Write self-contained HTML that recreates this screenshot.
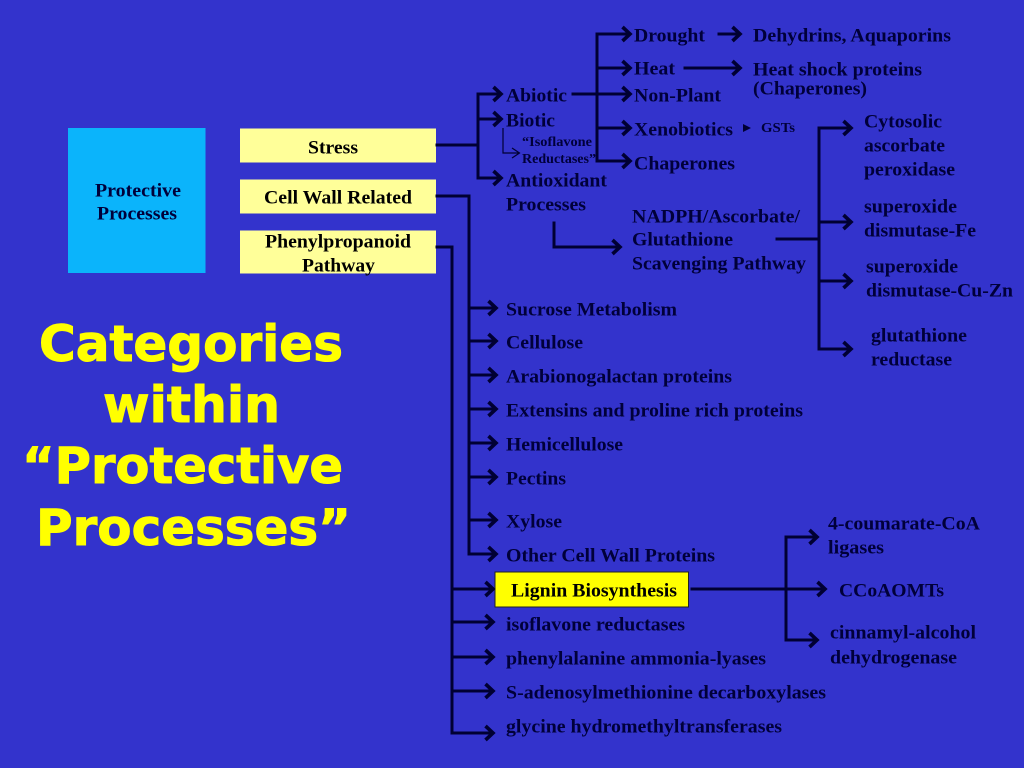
<!DOCTYPE html>
<html lang="en">
<head>
<meta charset="utf-8">
<title>Categories within Protective Processes</title>
<style>
html,body{margin:0;padding:0;background:#3333cc;width:1024px;height:768px;overflow:hidden}
svg{display:block}
.t text{font-family:"Liberation Serif",serif;font-weight:bold;font-size:18.5px;fill:#00003a}
.b text{fill:#000000}
.s text{font-size:13.500px}
.h text{font-family:"DejaVu Sans",sans-serif;font-weight:bold;font-size:50px;fill:#ffff00;stroke:#ffff00;stroke-width:1}
.l{fill:none;stroke:#000033;stroke-width:3;stroke-linecap:square;stroke-linejoin:miter}
.a{fill:none;stroke:#000033;stroke-width:3.6;stroke-linejoin:miter}
</style>
</head>
<body>
<svg width="1024" height="768" viewBox="0 0 1024 768" xmlns="http://www.w3.org/2000/svg">
<defs>
<g id="h"><path class="a" d="M-9.500,-7 L-2,0 L-9.500,7"/></g>
</defs>
<rect width="1024" height="768" fill="#3333cc"/>
<rect x="68" y="128" width="137.500" height="145" fill="#0bb4fb"/>
<rect x="240" y="128.500" width="196" height="34" fill="#ffff99"/>
<rect x="240" y="179.500" width="196" height="34" fill="#ffff99"/>
<rect x="240" y="230.500" width="196" height="43" fill="#ffff99"/>
<rect x="495" y="572" width="193.500" height="35" fill="#ffff00" stroke="#222" stroke-width="1"/>

<path class="l" d="M437,145 H478 M478,94 V178 M478,94 H498 M478,119 H498 M478,178 H498"/>
<use href="#h" x="503" y="94"/><use href="#h" x="503" y="119"/><use href="#h" x="503" y="178"/>
<path class="l" d="M573,94 H628 M597,34 V161 M597,34 H628 M597,68 H628 M597,128 H628 M597,161 H628"/>
<use href="#h" x="632" y="34"/><use href="#h" x="632" y="68"/><use href="#h" x="632" y="94"/><use href="#h" x="632" y="128"/><use href="#h" x="632" y="161"/>
<path class="l" d="M719,34 H738 M685,68 H738"/>
<use href="#h" x="742" y="34"/><use href="#h" x="742" y="68"/>
<path d="M743,124 L751,128 L743,132 Z" fill="#000033"/>
<path d="M503,128 V153 H519 M512,148 L519.500,153 L512,158" fill="none" stroke="#000033" stroke-width="1.200"/>
<path class="l" d="M554,223 V247 H618"/>
<use href="#h" x="622" y="247"/>
<path class="l" d="M777,239 H819 M819,128 V349 M819,128 H849 M819,222 H849 M819,281 H849 M819,349 H849"/>
<use href="#h" x="853" y="128"/><use href="#h" x="853" y="222"/><use href="#h" x="853" y="281"/><use href="#h" x="853" y="349"/>

<path class="l" d="M437,196 H469 V554 H494 M469,308 H494 M469,341 H494 M469,375 H494 M469,409 H494 M469,443 H494 M469,477 H494 M469,520 H494"/>
<use href="#h" x="498" y="308"/><use href="#h" x="498" y="341"/><use href="#h" x="498" y="375"/><use href="#h" x="498" y="409"/><use href="#h" x="498" y="443"/><use href="#h" x="498" y="477"/><use href="#h" x="498" y="520"/><use href="#h" x="498" y="554"/>
<path class="l" d="M437,247 H452 V733 H491 M452,589 H491 M452,622 H491 M452,657 H491 M452,691 H491"/>
<use href="#h" x="495" y="589"/><use href="#h" x="495" y="622"/><use href="#h" x="495" y="657"/><use href="#h" x="495" y="691"/><use href="#h" x="495" y="733"/>
<path class="l" d="M692,589 H823 M786,537 V640 M786,537 H815 M786,640 H815"/>
<use href="#h" x="827" y="589"/><use href="#h" x="819" y="537"/><use href="#h" x="819" y="640"/>

<g class="t b" transform="translate(0,0.5)">
<text x="308" y="153" textLength="50" lengthAdjust="spacingAndGlyphs">Stress</text>
<text x="264" y="203" textLength="148" lengthAdjust="spacingAndGlyphs">Cell Wall Related</text>
<text x="265" y="247" textLength="146" lengthAdjust="spacingAndGlyphs">Phenylpropanoid</text>
<text x="302" y="271" textLength="73" lengthAdjust="spacingAndGlyphs">Pathway</text>
<text x="511" y="596" textLength="166" lengthAdjust="spacingAndGlyphs">Lignin Biosynthesis</text>
</g>
<g class="t" transform="translate(0,0.5)">
<text x="95" y="196" textLength="86" lengthAdjust="spacingAndGlyphs">Protective</text>
<text x="97" y="219" textLength="80" lengthAdjust="spacingAndGlyphs">Processes</text>
<text x="634" y="41" textLength="71" lengthAdjust="spacingAndGlyphs">Drought</text>
<text x="753" y="41" textLength="198" lengthAdjust="spacingAndGlyphs">Dehydrins, Aquaporins</text>
<text x="634" y="74" textLength="41" lengthAdjust="spacingAndGlyphs">Heat</text>
<text x="753" y="75" textLength="169" lengthAdjust="spacingAndGlyphs">Heat shock proteins</text>
<text x="753" y="94" textLength="114" lengthAdjust="spacingAndGlyphs">(Chaperones)</text>
<text x="506" y="101" textLength="61" lengthAdjust="spacingAndGlyphs">Abiotic</text>
<text x="506" y="126" textLength="49" lengthAdjust="spacingAndGlyphs">Biotic</text>
<text x="634" y="101" textLength="87" lengthAdjust="spacingAndGlyphs">Non-Plant</text>
<text x="634" y="135" textLength="99" lengthAdjust="spacingAndGlyphs">Xenobiotics</text>
<text x="634" y="169" textLength="101" lengthAdjust="spacingAndGlyphs">Chaperones</text>
<text x="506" y="186" textLength="101" lengthAdjust="spacingAndGlyphs">Antioxidant</text>
<text x="506" y="210" textLength="80" lengthAdjust="spacingAndGlyphs">Processes</text>
<text x="632" y="222" textLength="168" lengthAdjust="spacingAndGlyphs">NADPH/Ascorbate/</text>
<text x="632" y="245" textLength="101" lengthAdjust="spacingAndGlyphs">Glutathione</text>
<text x="632" y="269" textLength="174" lengthAdjust="spacingAndGlyphs">Scavenging Pathway</text>
<text x="864" y="127" textLength="78" lengthAdjust="spacingAndGlyphs">Cytosolic</text>
<text x="864" y="151" textLength="81" lengthAdjust="spacingAndGlyphs">ascorbate</text>
<text x="864" y="175" textLength="91" lengthAdjust="spacingAndGlyphs">peroxidase</text>
<text x="864" y="212" textLength="93" lengthAdjust="spacingAndGlyphs">superoxide</text>
<text x="864" y="236" textLength="112" lengthAdjust="spacingAndGlyphs">dismutase-Fe</text>
<text x="866" y="272" textLength="92" lengthAdjust="spacingAndGlyphs">superoxide</text>
<text x="866" y="296" textLength="147" lengthAdjust="spacingAndGlyphs">dismutase-Cu-Zn</text>
<text x="871" y="341" textLength="96" lengthAdjust="spacingAndGlyphs">glutathione</text>
<text x="871" y="365" textLength="81" lengthAdjust="spacingAndGlyphs">reductase</text>
<text x="506" y="315" textLength="171" lengthAdjust="spacingAndGlyphs">Sucrose Metabolism</text>
<text x="506" y="348" textLength="77" lengthAdjust="spacingAndGlyphs">Cellulose</text>
<text x="506" y="382" textLength="226" lengthAdjust="spacingAndGlyphs">Arabionogalactan proteins</text>
<text x="506" y="416" textLength="297" lengthAdjust="spacingAndGlyphs">Extensins and proline rich proteins</text>
<text x="506" y="450" textLength="117" lengthAdjust="spacingAndGlyphs">Hemicellulose</text>
<text x="506" y="484" textLength="60" lengthAdjust="spacingAndGlyphs">Pectins</text>
<text x="506" y="527" textLength="56" lengthAdjust="spacingAndGlyphs">Xylose</text>
<text x="506" y="561" textLength="209" lengthAdjust="spacingAndGlyphs">Other Cell Wall Proteins</text>
<text x="506" y="630" textLength="179" lengthAdjust="spacingAndGlyphs">isoflavone reductases</text>
<text x="506" y="664" textLength="260" lengthAdjust="spacingAndGlyphs">phenylalanine ammonia-lyases</text>
<text x="506" y="698" textLength="320" lengthAdjust="spacingAndGlyphs">S-adenosylmethionine decarboxylases</text>
<text x="506" y="732" textLength="276" lengthAdjust="spacingAndGlyphs">glycine hydromethyltransferases</text>
<text x="828" y="529" textLength="152" lengthAdjust="spacingAndGlyphs">4-coumarate-CoA</text>
<text x="828" y="553" textLength="56" lengthAdjust="spacingAndGlyphs">ligases</text>
<text x="839" y="596" textLength="105" lengthAdjust="spacingAndGlyphs">CCoAOMTs</text>
<text x="830" y="638" textLength="146" lengthAdjust="spacingAndGlyphs">cinnamyl-alcohol</text>
<text x="830" y="663" textLength="127" lengthAdjust="spacingAndGlyphs">dehydrogenase</text>
</g>
<g class="t s">
<text x="761" y="132" textLength="34" lengthAdjust="spacingAndGlyphs">GSTs</text>
<text x="522" y="146" textLength="70" lengthAdjust="spacingAndGlyphs">“Isoflavone</text>
<text x="522" y="163" textLength="74" lengthAdjust="spacingAndGlyphs">Reductases”</text>
</g>
<g class="h">
<text x="39" y="361" textLength="304" lengthAdjust="spacingAndGlyphs">Categories</text>
<text x="103" y="422" textLength="177" lengthAdjust="spacingAndGlyphs">within</text>
<text x="22" y="483" textLength="321" lengthAdjust="spacingAndGlyphs">“Protective</text>
<text x="36" y="545" textLength="315" lengthAdjust="spacingAndGlyphs">Processes”</text>
</g>
</svg>
</body>
</html>
